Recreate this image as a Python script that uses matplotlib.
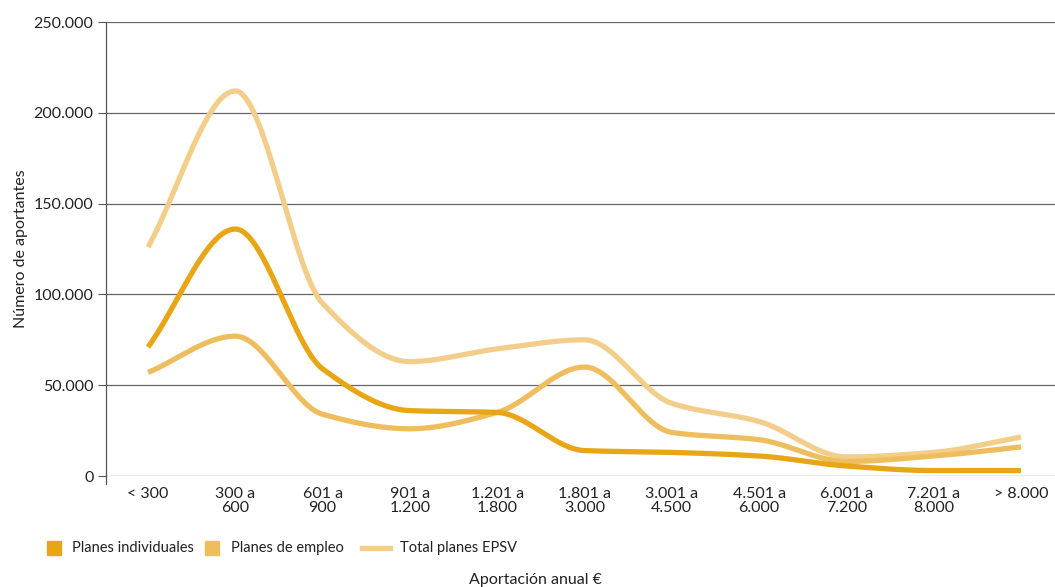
import numpy as np
import matplotlib
matplotlib.use("Agg")
import matplotlib.pyplot as plt
from matplotlib.lines import Line2D
from matplotlib.patches import Rectangle

plt.rcParams['font.family'] = ['Lato', 'DejaVu Sans']

categories = ["< 300", "300 a\n600", "601 a\n900", "901 a\n1.200", "1.201 a\n1.800",
              "1.801 a\n3.000", "3.001 a\n4.500", "4.501 a\n6.000", "6.001 a\n7.200",
              "7.201 a\n8.000", "> 8.000"]
individuales = [71000, 136000, 59000, 36000, 35000, 14000, 13000, 11000, 5500, 3000, 3000]
empleo = [57000, 77000, 34000, 26000, 35000, 60000, 24000, 20000, 8000, 11000, 16000]
total = [126000, 212000, 95000, 63000, 70000, 75000, 40000, 30000, 10500, 13000, 21500]

yticks = [0, 50000, 100000, 150000, 200000, 250000]
ytick_labels = ["0", "50.000", "100.000", "150.000", "200.000", "250.000"]

col_ind = "#E8A617"
col_emp = "#EEBE5E"
col_tot = "#F3CE8A"


def pchip(x, y, xs):
    x = np.asarray(x, float); y = np.asarray(y, float)
    h = np.diff(x); d = np.diff(y) / h
    n = len(x); m = np.zeros(n)
    for k in range(1, n - 1):
        if d[k - 1] * d[k] > 0:
            w1 = 2 * h[k] + h[k - 1]; w2 = h[k] + 2 * h[k - 1]
            m[k] = (w1 + w2) / (w1 / d[k - 1] + w2 / d[k])
    m[0] = d[0]; m[-1] = d[-1]
    idx = np.clip(np.searchsorted(x, xs) - 1, 0, n - 2)
    t = (xs - x[idx]) / h[idx]
    h00 = 2 * t**3 - 3 * t**2 + 1; h10 = t**3 - 2 * t**2 + t
    h01 = -2 * t**3 + 3 * t**2; h11 = t**3 - t**2
    return h00 * y[idx] + h10 * h[idx] * m[idx] + h01 * y[idx + 1] + h11 * h[idx] * m[idx + 1]


W, H = 1055, 587
fig = plt.figure(figsize=(W / 100, H / 100), dpi=100)
ax = fig.add_axes([106 / W, 1 - 476 / H, 1 - 106 / W, (476 - 22) / H])

x = np.arange(len(categories))
xs = np.linspace(0, len(categories) - 1, 800)
lw = 3.8
ax.plot(xs, pchip(x, total, xs), color=col_tot, lw=lw, solid_capstyle='butt', zorder=3)
ax.plot(xs, pchip(x, empleo, xs), color=col_emp, lw=lw, solid_capstyle='butt', zorder=4)
ax.plot(xs, pchip(x, individuales, xs), color=col_ind, lw=lw, solid_capstyle='butt', zorder=5)

ax.set_xlim(-0.481, (W - 148) / 87.3)
ax.set_ylim(0, 250000)
ax.set_yticks(yticks)
ax.set_yticklabels(ytick_labels)
ax.set_xticks(x)
ax.set_xticklabels(categories, linespacing=1.0)
ax.tick_params(axis='y', length=6, width=0.8, color='#555555', labelsize=11.5,
               labelcolor='#222222', pad=3)
ax.tick_params(axis='x', length=0, labelsize=11.5, labelcolor='#222222', pad=8)
ax.grid(axis='y', color='#666666', lw=0.9, zorder=1)
ax.set_axisbelow(True)
for s in ['top', 'right', 'bottom']:
    ax.spines[s].set_visible(False)
ax.spines['left'].set_color('#555555')
ax.spines['left'].set_linewidth(0.9)
ax.spines['left'].set_bounds(0, 250000)
ax.plot([0, 0], [0, -8 / 454], transform=ax.transAxes, color='#555555', lw=0.9, clip_on=False)

ax.set_ylabel("Número de aportantes", fontsize=11.5, color='#222222', labelpad=4)

# legend
ly = 1 - 548 / H
fig.add_artist(Rectangle((47 / W, ly - 7 / H), 14 / W, 14 / H, color=col_ind, transform=fig.transFigure))
fig.text(72 / W, ly, "Planes individuales", fontsize=10.5, color='#222222', va='center')
fig.add_artist(Rectangle((205 / W, ly - 7 / H), 14 / W, 14 / H, color=col_emp, transform=fig.transFigure))
fig.text(231 / W, ly, "Planes de empleo", fontsize=10.5, color='#222222', va='center')
fig.add_artist(Line2D([362 / W, 390 / W], [ly, ly], color=col_tot, lw=lw, transform=fig.transFigure))
fig.text(400 / W, ly, "Total planes EPSV", fontsize=10.5, color='#222222', va='center')

fig.text(535 / W, 1 - 580 / H, "Aportación anual €", fontsize=11.5, color='#222222',
         ha='center', va='center')

fig.savefig("out.png", dpi=100)
